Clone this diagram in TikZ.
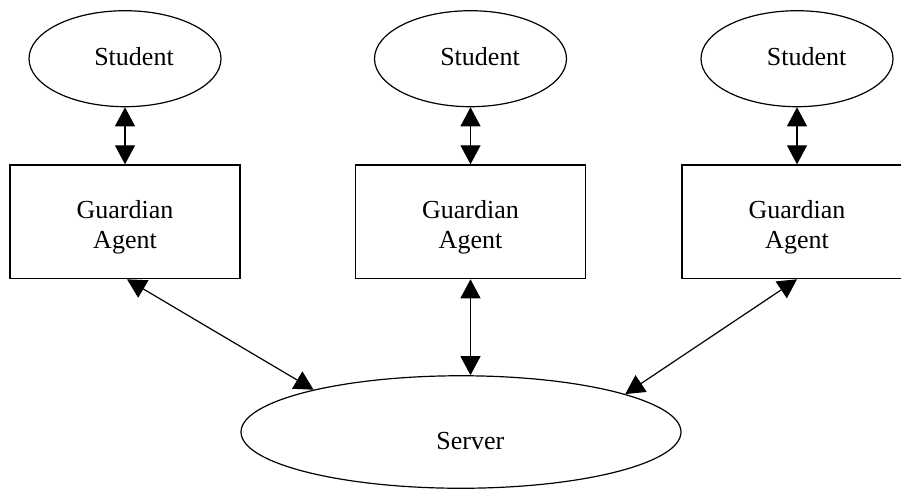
\documentclass[tikz,border=0pt]{standalone}
\usepackage{fontspec}
\setmainfont{Liberation Serif}
\usetikzlibrary{arrows.meta,shapes.geometric,calc}
\begin{document}
\begin{tikzpicture}[x=1pt,y=-1pt,
  oval/.style={ellipse,draw,line width=1.2pt,inner sep=0pt},
  student/.style={oval,minimum width=192pt,minimum height=96pt},
  gbox/.style={rectangle,draw,line width=1.6pt,minimum width=229.8pt,minimum height=113.4pt,inner sep=0pt},
  lbl/.style={font=\fontsize{26}{30}\selectfont,inner sep=0pt,anchor=base},
  lbl2/.style={font=\fontsize{26}{30}\selectfont,inner sep=0pt,align=center,anchor=center},
  biarrow/.style={{Triangle[length=19pt,width=20pt]}-{Triangle[length=19pt,width=20pt]},line width=1.2pt}
]
\useasboundingbox (0,0) rectangle (901,488);
\clip (0,0) rectangle (901,488);

% ellipses (Student)
\node[student] (s1) at (125,58.7) {};
\node[student] (s2) at (470.5,58.7) {};
\node[student] (s3) at (797,58.7) {};

% Guardian Agent boxes
\node[gbox] (g1) at (125,221.8) {};
\node[gbox] (g2) at (470.5,221.8) {};
\node[gbox] (g3) at (797,221.8) {};

% Server
\node[oval,minimum width=440pt,minimum height=112.5pt] (srv) at (461,432) {};

% labels
\node[lbl] (t1) at (134,65.7) {Student};
\node[lbl] (t2) at (480,65.7) {Student};
\node[lbl] (t3) at (806.7,65.7) {Student};
\node[lbl2] (a1) at (125,227.2) {Guardian\\Agent};
\node[lbl2] (a2) at (470.5,227.2) {Guardian\\Agent};
\node[lbl2] (a3) at (797,227.2) {Guardian\\Agent};
\node[lbl] (ts) at (470.3,449.3) {Server};

% connectors
\draw[biarrow] (s1) -- (g1);
\draw[biarrow] (s2) -- (g2);
\draw[biarrow] (s3) -- (g3);
\draw[biarrow] ([xshift=2pt]g1.south) -- (srv.164);
\draw[biarrow] (g2.south) -- (g2.south |- srv.north);
\draw[biarrow] (g3.south) -- (srv.13);
\end{tikzpicture}
\end{document}
